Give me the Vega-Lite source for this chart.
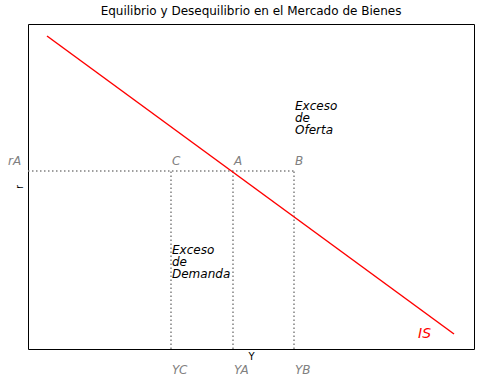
{
  "$schema": "https://vega.github.io/schema/vega-lite/v6.json",
  "width": 446,
  "height": 325,
  "autosize": "none",
  "padding": {"left": 28, "top": 24, "right": 7, "bottom": 34},
  "background": "white",
  "title": {"text": "Equilibrio y Desequilibrio en el Mercado de Bienes", "font": "DejaVu Sans", "fontSize": 12, "fontWeight": "normal", "color": "black", "offset": 6},
  "config": {"view": {"stroke": "black", "strokeWidth": 1}, "font": "DejaVu Sans"},
  "datasets": {
    "is": [{"Y": 19, "r": 313}, {"Y": 426, "r": 15}],
    "rules": [
      {"x": 0, "x2": 266, "y": 178, "y2": 178},
      {"x": 143, "x2": 143, "y": 0, "y2": 178},
      {"x": 205, "x2": 205, "y": 0, "y2": 178},
      {"x": 266, "x2": 266, "y": 0, "y2": 178}
    ],
    "gray": [
      {"x": -20, "y": 184, "t": "rA"},
      {"x": 144, "y": 184, "t": "C"},
      {"x": 206, "y": 184, "t": "A"},
      {"x": 267, "y": 184, "t": "B"},
      {"x": 144, "y": -25, "t": "YC"},
      {"x": 206, "y": -25, "t": "YA"},
      {"x": 267, "y": -25, "t": "YB"}
    ],
    "black": [
      {"x": 267, "y": 239, "t": "Exceso\nde\nOferta"},
      {"x": 144, "y": 95, "t": "Exceso\nde\nDemanda"}
    ],
    "red": [{"x": 390, "y": 11, "t": "IS"}]
  },
  "layer": [
    {
      "data": {"name": "rules"},
      "mark": {"type": "rule", "color": "#808080", "strokeWidth": 1.5, "strokeDash": [1.5, 2.5]},
      "encoding": {
        "x": {"field": "x", "type": "quantitative", "scale": {"domain": [0, 446], "nice": false, "zero": false}, "axis": {"title": "Y", "labels": false, "ticks": false, "domain": false, "grid": false, "titleFont": "DejaVu Sans", "titleFontSize": 10, "titleFontWeight": "normal", "titleColor": "black", "titlePadding": 2}},
        "x2": {"field": "x2"},
        "y": {"field": "y", "type": "quantitative", "scale": {"domain": [0, 325], "nice": false, "zero": false}, "axis": {"title": "r", "labels": false, "ticks": false, "domain": false, "grid": false, "titleFont": "DejaVu Sans", "titleFontSize": 10, "titleFontWeight": "normal", "titleColor": "black", "titlePadding": 4}},
        "y2": {"field": "y2"}
      }
    },
    {
      "data": {"name": "is"},
      "mark": {"type": "line", "color": "red", "strokeWidth": 1.5},
      "encoding": {
        "x": {"field": "Y", "type": "quantitative"},
        "y": {"field": "r", "type": "quantitative"}
      }
    },
    {
      "data": {"name": "gray"},
      "mark": {"type": "text", "align": "left", "baseline": "alphabetic", "fontStyle": "italic", "fontSize": 12, "color": "#808080"},
      "encoding": {
        "x": {"field": "x", "type": "quantitative"},
        "y": {"field": "y", "type": "quantitative"},
        "text": {"field": "t"}
      }
    },
    {
      "data": {"name": "black"},
      "mark": {"type": "text", "align": "left", "baseline": "alphabetic", "fontStyle": "italic", "fontSize": 12, "color": "black", "lineBreak": "\n", "lineHeight": 12},
      "encoding": {
        "x": {"field": "x", "type": "quantitative"},
        "y": {"field": "y", "type": "quantitative"},
        "text": {"field": "t"}
      }
    },
    {
      "data": {"name": "red"},
      "mark": {"type": "text", "align": "left", "baseline": "alphabetic", "fontStyle": "italic", "fontSize": 14, "color": "red"},
      "encoding": {
        "x": {"field": "x", "type": "quantitative"},
        "y": {"field": "y", "type": "quantitative"},
        "text": {"field": "t"}
      }
    }
  ]
}
